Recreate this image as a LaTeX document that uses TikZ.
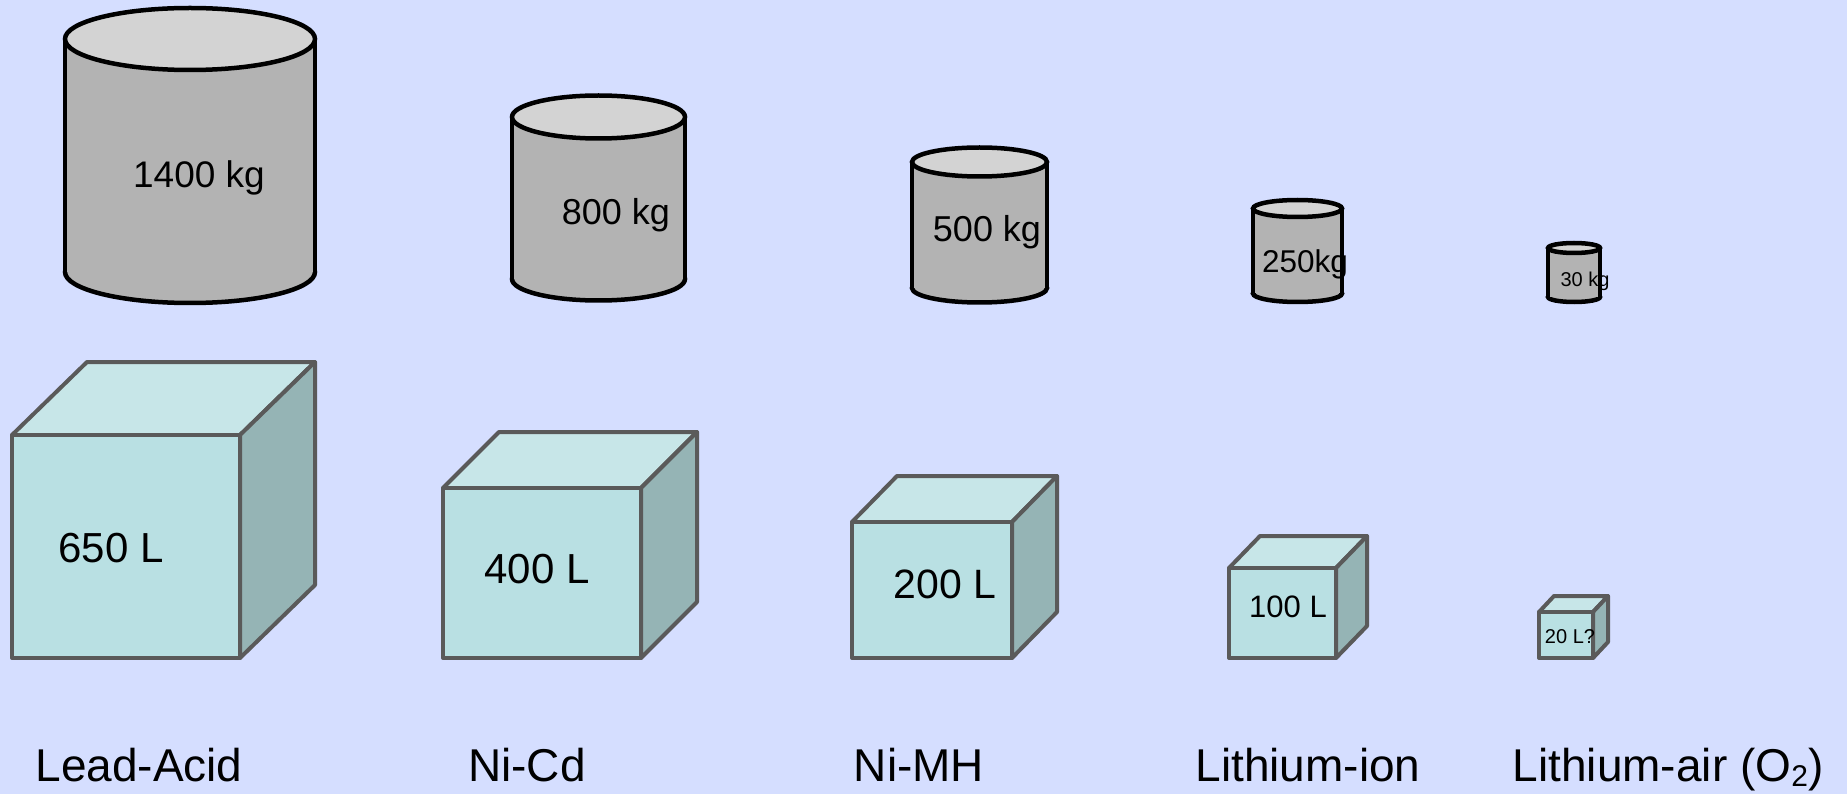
\documentclass[tikz,border=0pt]{standalone}
\usepackage{fontspec}
\setmainfont{Liberation Sans}

\definecolor{bgblue}{RGB}{213,222,255}
\definecolor{cylside}{RGB}{179,179,179}
\definecolor{cyltop}{RGB}{211,211,211}
\definecolor{boxfront}{RGB}{185,224,227}
\definecolor{boxtop}{RGB}{199,230,232}
\definecolor{boxside}{RGB}{149,180,181}
\definecolor{boxedge}{RGB}{90,90,90}

\tikzset{
  cylbody/.style={fill=cylside, draw=black, line width=4.5pt},
  cyllid/.style={fill=cyltop, draw=black, line width=4.5pt},
  cubefront/.style={fill=boxfront, draw=boxedge, line width=4pt, line join=round},
  cubetop/.style={fill=boxtop, draw=boxedge, line width=4pt, line join=round},
  cubeside/.style={fill=boxside, draw=boxedge, line width=4pt, line join=round},
  val/.style={anchor=base, inner sep=0pt},
}

\begin{document}
\begin{tikzpicture}[x=1pt,y=-1pt]
% background, one unit is one pixel of the picture
\useasboundingbox (0,0) rectangle (1847,794);
\fill[bgblue] (0,0) rectangle (1847,794);

% Lead-Acid cylinder
\filldraw[cylbody] (190,272) ellipse [x radius=125, y radius=31];
\fill[cylside] (65,39) rectangle (315,272);
\draw[cylbody] (65,39) -- (65,272) (315,39) -- (315,272);
\filldraw[cyllid] (190,39) ellipse [x radius=125, y radius=31];
% Ni-Cd cylinder
\filldraw[cylbody] (598.5,279) ellipse [x radius=86.5, y radius=21.5];
\fill[cylside] (512,117) rectangle (685,279);
\draw[cylbody] (512,117) -- (512,279) (685,117) -- (685,279);
\filldraw[cyllid] (598.5,117) ellipse [x radius=86.5, y radius=21.5];
% Ni-MH cylinder
\filldraw[cylbody] (979.5,288) ellipse [x radius=67.5, y radius=14.5];
\fill[cylside] (912,162) rectangle (1047,288);
\draw[cylbody] (912,162) -- (912,288) (1047,162) -- (1047,288);
\filldraw[cyllid] (979.5,162) ellipse [x radius=67.5, y radius=14.5];
% Lithium-ion cylinder
\filldraw[cylbody] (1297.5,293.5) ellipse [x radius=44.5, y radius=8.5];
\fill[cylside] (1253,208.5) rectangle (1342,293.5);
\draw[cylbody] (1253,208.5) -- (1253,293.5) (1342,208.5) -- (1342,293.5);
\filldraw[cyllid] (1297.5,208.5) ellipse [x radius=44.5, y radius=8.5];
% Lithium-air cylinder
\filldraw[cylbody] (1574,297) ellipse [x radius=26, y radius=5];
\fill[cylside] (1548,248) rectangle (1600,297);
\draw[cylbody] (1548,248) -- (1548,297) (1600,248) -- (1600,297);
\filldraw[cyllid] (1574,248) ellipse [x radius=26, y radius=5];

% masses
\node[val, font=\fontsize{37}{40}\selectfont] (kgLead) at (199,188) {1400 kg};
\node[val, font=\fontsize{36}{40}\selectfont] (kgNiCd) at (616,225) {800 kg};
\node[val, font=\fontsize{36}{40}\selectfont] (kgNiMH) at (987,242) {500 kg};
\node[val, font=\fontsize{31.5}{35}\selectfont] (kgLiIon) at (1305,273) {250kg};
\node[val, font=\fontsize{20}{24}\selectfont] (kgLiAir) at (1585,287) {30 kg};

% Lead-Acid box
\filldraw[cubetop] (12,435) -- (87,362) -- (315,362) -- (240,435) -- cycle;
\filldraw[cubeside] (240,435) -- (315,362) -- (315,585) -- (240,658) -- cycle;
\filldraw[cubefront] (12,435) rectangle (240,658);
% Ni-Cd box
\filldraw[cubetop] (443,488) -- (499,432) -- (697,432) -- (641,488) -- cycle;
\filldraw[cubeside] (641,488) -- (697,432) -- (697,602) -- (641,658) -- cycle;
\filldraw[cubefront] (443,488) rectangle (641,658);
% Ni-MH box
\filldraw[cubetop] (852,522) -- (897,476) -- (1057,476) -- (1012,522) -- cycle;
\filldraw[cubeside] (1012,522) -- (1057,476) -- (1057,612) -- (1012,658) -- cycle;
\filldraw[cubefront] (852,522) rectangle (1012,658);
% Lithium-ion box
\filldraw[cubetop] (1229,568) -- (1260,536) -- (1367,536) -- (1336,568) -- cycle;
\filldraw[cubeside] (1336,568) -- (1367,536) -- (1367,626) -- (1336,658) -- cycle;
\filldraw[cubefront] (1229,568) rectangle (1336,658);
% Lithium-air box
\filldraw[cubetop] (1539,612) -- (1554,596) -- (1608,596) -- (1593,612) -- cycle;
\filldraw[cubeside] (1593,612) -- (1608,596) -- (1608,642) -- (1593,658) -- cycle;
\filldraw[cubefront] (1539,612) rectangle (1593,658);

% volumes
\node[val, font=\fontsize{42}{46}\selectfont] (volLead) at (111,562) {650 L};
\node[val, font=\fontsize{42}{46}\selectfont] (volNiCd) at (537,583) {400 L};
\node[val, font=\fontsize{41}{46}\selectfont] (volNiMH) at (945,598) {200 L};
\node[val, font=\fontsize{31}{35}\selectfont] (volLiIon) at (1288,617) {100 L};
\node[val, font=\fontsize{20}{24}\selectfont] (volLiAir) at (1570,643) {20 L?};

% battery names
\node[val, font=\fontsize{46}{50}\selectfont] (nameLead) at (139,781) {Lead-Acid};
\node[val, font=\fontsize{46}{50}\selectfont] (nameNiCd) at (527,781) {Ni-Cd};
\node[val, font=\fontsize{46}{50}\selectfont] (nameNiMH) at (919,781) {Ni-MH};
\node[val, font=\fontsize{46}{50}\selectfont] (nameLiIon) at (1308,781) {Lithium-ion};
\node[val, font=\fontsize{46}{50}\selectfont] (nameLiAir) at (1668,781)
  {Lithium-air (O\raisebox{-0.12em}{\fontsize{30}{32}\selectfont 2})};
\end{tikzpicture}
\end{document}
